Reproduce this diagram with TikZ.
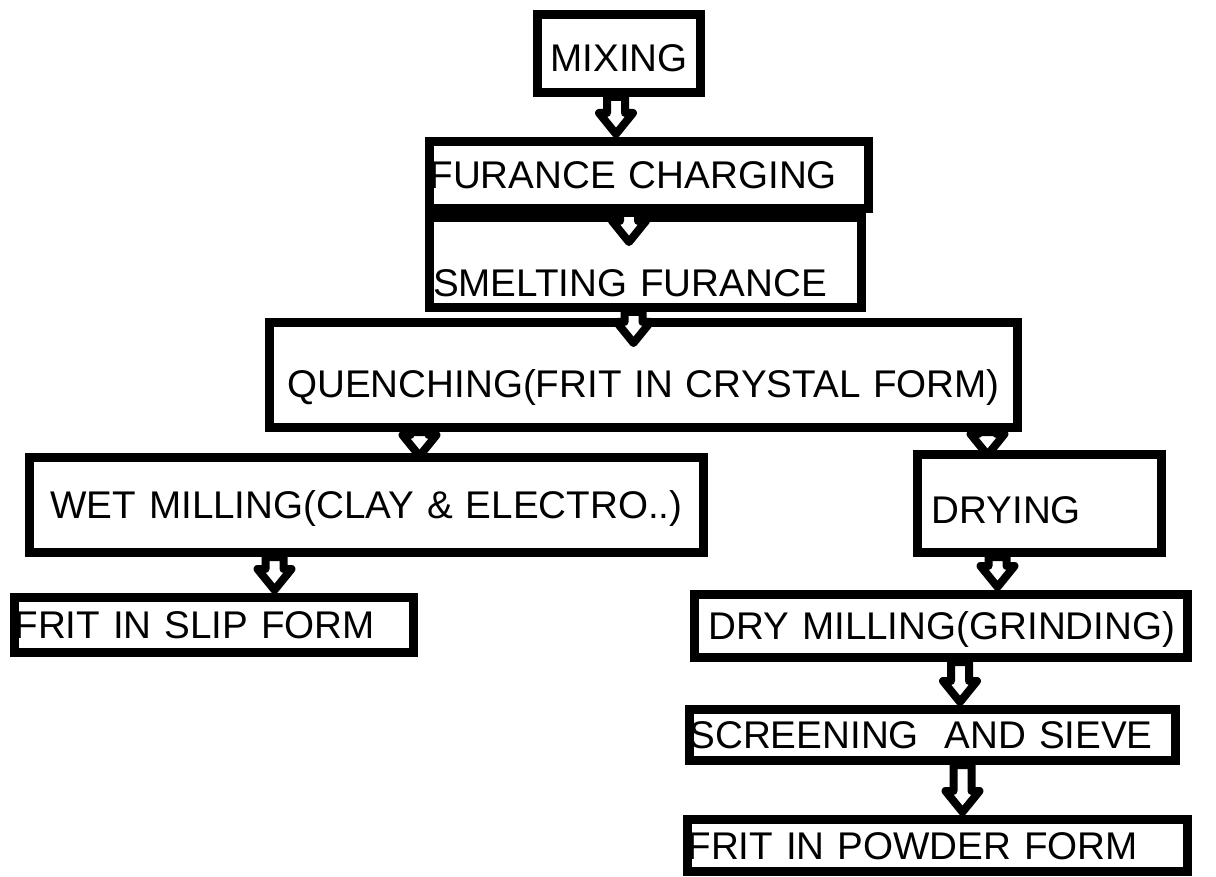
\documentclass[tikz,border=0pt]{standalone}
\usepackage{fontspec}
\setmainfont{Liberation Sans}
\usepackage{tikz}
\usetikzlibrary{calc}

\tikzset{
  stage/.style={draw, line width=4.5pt, inner sep=0pt, align=left,
    text height=13.8pt, text depth=0pt, font=\fontsize{19.3}{23}\selectfont},
  flow/.style={draw=black, fill=white, line width=4pt, line join=round}
}
% hollow block arrow from one box down to the next
\newcommand{\flowarrow}[2]{%
  \draw[flow] let \p1=(#1), \p2=(#2) in
    (\x1-4.5pt,\y1) -- (\x1-4.5pt,\y2+12pt) -- (\x1-8.5pt,\y2+12pt) -- (\x1,\y2+1.5pt)
    -- (\x1+8.5pt,\y2+12pt) -- (\x1+4.5pt,\y2+12pt) -- (\x1+4.5pt,\y1) -- cycle;}

\begin{document}
\begin{tikzpicture}[x=0.5pt, y=-0.5pt]
\fill[white] (0,0) rectangle (1216,877);
\useasboundingbox (0,0) rectangle (1216,877);

% Main line
\node[stage, text width=81.5pt, minimum height=39pt, align=center, text height=17.8pt] (mix) at (619,53.5) {MIXING};
\node[stage, text width=219.5pt, minimum height=33.5pt] (chg) at (649,175) {FURANCE CHARGING};
\node[stage, text width=216pt, minimum height=45pt, text height=33.8pt] (sml) at (645.5,262.5) {\hspace*{1.75pt}SMELTING FURANCE};
\node[stage, text width=374pt, minimum height=52.5pt, align=center, text height=22.8pt] (qch) at (643.5,375) {QUENCHING(FRIT IN CRYSTAL FORM)};

% Wet branch
\node[stage, text width=337pt, minimum height=47.5pt, align=center] (wet) at (366.5,505) {WET MILLING(CLAY \& ELECTRO..)};
\node[stage, text width=199.5pt, minimum height=27.5pt] (slip) at (214,625) {FRIT IN SLIP FORM};

% Dry branch
\node[stage, text width=122pt, minimum height=49pt, text height=19.8pt] (dry) at (1039.5,503.5) {\hspace*{7pt}DRYING};
\node[stage, text width=246.5pt, minimum height=31.5pt] (dml) at (941,626) {\hspace*{7pt}DRY MILLING(GRINDING)};
\node[stage, text width=243pt, minimum height=25.5pt] (scr) at (932.5,735) {SCREENING\ \ AND SIEVE};
\node[stage, text width=250pt, minimum height=26pt] (pow) at (937.5,845.5) {FRIT IN POWDER FORM};

% Arrows
\flowarrow{[xshift=-1.5pt]mix.south}{chg.north}
\flowarrow{[xshift=-10pt]chg.south}{[yshift=-16pt]sml.north}
\flowarrow{[xshift=-6pt]sml.south}{[yshift=-14pt]qch.north}
\flowarrow{[xshift=-112pt]qch.south}{[yshift=-3pt]wet.north}
\flowarrow{[xshift=172pt]qch.south}{[yshift=-4pt]dry.north}
\flowarrow{[xshift=-46pt]wet.south}{slip.north}
\flowarrow{[xshift=-21pt]dry.south}{dml.north}
\flowarrow{[xshift=9.5pt]dml.south}{scr.north}
\flowarrow{[xshift=15pt]scr.south}{pow.north}

\end{tikzpicture}
\end{document}
